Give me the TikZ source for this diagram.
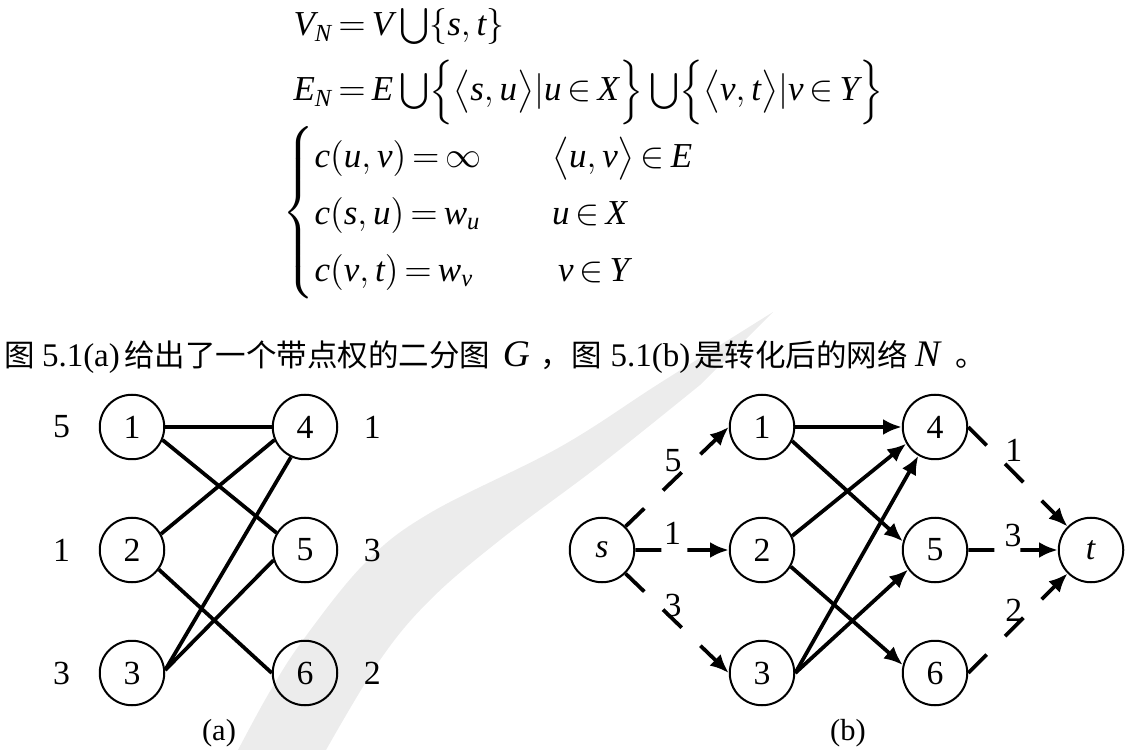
\documentclass[tikz,border=0pt]{standalone}
\usepackage{amsmath}
\usepackage{fontspec}
\setmainfont{Liberation Serif}
\newfontfamily\cjk{Noto Sans CJK SC}
\usepackage{tikz}
\usetikzlibrary{arrows.meta,positioning}
\definecolor{wmgray}{gray}{0.925}
\newcommand\mv[1]{\text{\itshape #1}}
\newcommand\numfont{\fontsize{13.5}{16}\selectfont}
\newcommand\eqfont{\fontsize{14}{17}\selectfont\thickmuskip=3mu\medmuskip=2mu}
\newcommand\txtfont{\fontsize{12.2}{14}\selectfont}
\newcommand\latfont{\fontsize{13.2}{16}\selectfont}
\newcommand\zh{\cjk\fontsize{12.2}{16}\selectfont}
\newcommand\symb[1]{{\fontsize{15}{16}\selectfont\itshape #1}}
\tikzset{
  vtx/.style={draw, circle, line width=0.8pt, minimum size=25.8pt, inner sep=0pt, font=\numfont},
  wt/.style={inner sep=0pt, font=\numfont},
  eq/.style={anchor=base west, inner sep=0pt, font=\eqfont},
  txt/.style={inner sep=0pt, font=\txtfont},
  link/.style={line width=1.5pt},
  flow/.style={link, -{Latex[length=7.5pt,width=6.4pt]}},
  broken/.style={flow, dash pattern=on 10.4pt off 10.4pt}
}

\begin{document}
\begin{tikzpicture}[x=0.4pt, y=-0.4pt, node distance=22.6pt]
    \useasboundingbox (0,0) rectangle (1130,750);

    % watermark
    \fill[wmgray] plot[smooth, tension=.6] coordinates {(238,750) (269,693) (303,640) (365,563) (430,513) (560,447) (660,383) (773,312)}
      -- plot[smooth, tension=.6] coordinates {(700,385) (600,465) (500,540) (430,600) (380,660) (326,750)} -- cycle;

    % formulas
    \node[eq] (vn) at (293,36) {$\mv{V}_{\mv{N}}=\mv{V}\bigcup\{\mv{s},\mv{t}\}$};
    \node[eq] (en) at (293,101) {$\mv{E}_{\mv{N}}=\mv{E}\bigcup\Bigl\{\bigl\langle\mv{s},\mv{u}\bigr\rangle|\mv{u}\in\mv{X}\Bigr\}\bigcup\Bigl\{\bigl\langle\mv{v},\mv{t}\bigr\rangle|\mv{v}\in\mv{Y}\Bigr\}$};
    \node[eq, anchor=west] (cap) at (282,213) {\renewcommand\arraystretch{1.34}$\left\{\begin{array}{@{}p{95pt}@{}l@{}}
      $\mv{c}(\mv{u},\mv{v})=\infty$ & \bigl\langle\mv{u},\mv{v}\bigr\rangle\in\mv{E}\\
      $\mv{c}(\mv{s},\mv{u})=\mv{w}_{\mv{u}}$ & \mv{u}\in\mv{X}\\
      $\mv{c}(\mv{v},\mv{t})=\mv{w}_{\mv{v}}$ & \;\mv{v}\in\mv{Y}
    \end{array}\right.$};

    % sentence
    \node[eq, font=\latfont] (line) at (4,367) {{\zh 图}\hspace{2.8pt}5.1(a)\hspace{1.8pt}{\zh 给出了一个带点权的二分图}\hspace{5pt}\symb{G}\hspace{4.4pt}{\zh ，图}\hspace{3.5pt}5.1(b)\hspace{1.5pt}{\zh 是转化后的网络}\hspace{3pt}\symb{N}\hspace{6pt}{\zh 。}};

    % (a) bipartite graph
    \node[vtx] (a1) at (132,427) {1};
    \node[vtx, below=of a1] (a2) {2};
    \node[vtx, below=of a2] (a3) {3};
    \node[vtx] (a4) at (305,427) {4};
    \node[vtx, below=of a4] (a5) {5};
    \node[vtx, below=of a5] (a6) {6};
    \node[wt, left=11.3pt of a1] (wa1) {5};
    \node[wt, left=11.3pt of a2] (wa2) {1};
    \node[wt, left=11.3pt of a3] (wa3) {3};
    \node[wt, right=10pt of a4] (wa4) {1};
    \node[wt, right=10pt of a5] (wa5) {3};
    \node[wt, right=10pt of a6] (wa6) {2};
    \node[txt] (capa) at (219,733) {(a)};

    \draw[link] (a1) -- (a4);
    \draw[link] (a1.-23) -- (a5.149);
    \draw[link] (a2.29) -- (a4.203);
    \draw[link] (a2.-36) -- (a6.west);
    \draw[link] (a3.5) -- (a4.245);
    \draw[link] (a3.5) -- (a5.198);

    % (b) network
    \node[vtx] (s) at (602,550) {\textit{s}};
    \node[vtx] (b1) at (762,427) {1};
    \node[vtx, below=of b1] (b2) {2};
    \node[vtx, below=of b2] (b3) {3};
    \node[vtx] (b4) at (935,427) {4};
    \node[vtx, below=of b4] (b5) {5};
    \node[vtx, below=of b5] (b6) {6};
    \node[vtx] (t) at (1091,550) {\textit{t}};
    \node[txt] (capb) at (848,733) {(b)};

    \draw[flow] (b1) -- (b4);
    \draw[flow] (b1.-25) -- (b5.165);
    \draw[flow] (b2.25) -- (b4.210);
    \draw[flow] (b2.-30) -- (b6.166);
    \draw[flow] (b3.east) -- (b4.240);
    \draw[flow] (b3.east) -- (b5.216);

    % source and sink arcs
    \draw[broken] (s.north east) -- node[wt, pos=.46, above=2.9pt] (c1) {5} (b1.west);
    \draw[broken] (s.east) -- node[wt, pos=.4, above=1.4pt] (c2) {1} (b2.west);
    \draw[broken] (s.south east) -- node[wt, pos=.46, above=0.4pt] (c3) {3} (b3.west);
    \draw[broken] (b4.east) -- node[wt, pos=.46, above=3.8pt] (c4) {1} (t.north west);
    \draw[broken] (b5.east) -- node[wt, pos=.5, above=0.6pt] (c5) {3} (t.west);
    \draw[broken] (b6.east) -- node[wt, pos=.46, above=1.5pt] (c6) {2} (t.south west);
  \end{tikzpicture}
\end{document}
